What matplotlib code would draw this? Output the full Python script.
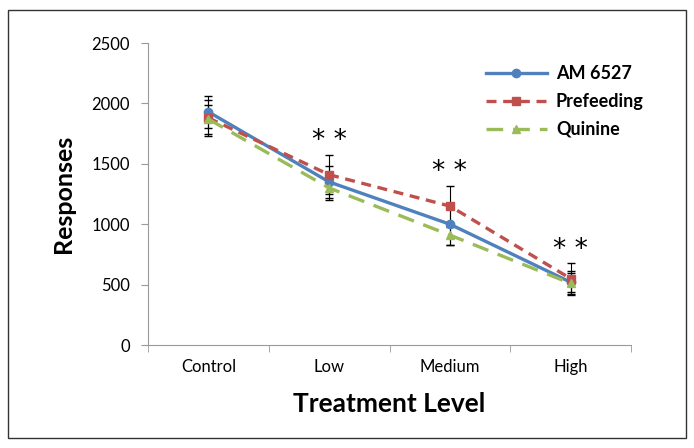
import matplotlib.pyplot as plt
from matplotlib.patches import Rectangle

categories = ["Control", "Low", "Medium", "High"]
am6527 = [1930, 1350, 1000, 520]
am6527_err = [130, 130, 170, 80]
prefeeding = [1880, 1410, 1150, 550]
prefeeding_err = [150, 160, 170, 130]
quinine = [1870, 1300, 910, 510]
quinine_err = [120, 100, 80, 100]
stars = ["", "* *", "* *", "* *"]
star_y = [0, 1690, 1430, 790]

plt.rcParams['font.family'] = ['Lato', 'DejaVu Sans']

fig = plt.figure(figsize=(6.94, 4.48), dpi=100)
ax = fig.add_axes([0.2133, 0.2299, 0.6959, 0.6741])

x = list(range(len(categories)))
series = [
    (am6527, am6527_err, "#4F81BD", "-", "o", "AM 6527"),
    (prefeeding, prefeeding_err, "#C0504D", (0, (3, 2)), "s", "Prefeeding"),
    (quinine, quinine_err, "#9BBB59", (0, (5, 3)), "^", "Quinine"),
]
for vals, errs, col, ls, mk, lab in series:
    ax.errorbar(x, vals, yerr=errs, fmt="none", ecolor="black", elinewidth=0.8,
                capsize=3, zorder=2)
    ax.plot(x, vals, color=col, lw=2.4, ls=ls, marker=mk, ms=6, label=lab, zorder=3)

for i, s in enumerate(stars):
    if s:
        ax.text(i, star_y[i], s, ha="center", va="center", fontsize=19,
                family="DejaVu Sans")

ax.set_xlim(-0.5, 3.5)
ax.set_ylim(0, 2500)
ax.set_yticks(range(0, 2501, 500))
ax.set_xticks(x)
ax.set_xticklabels(categories)
ax.set_xticks([-0.5, 0.5, 1.5, 2.5, 3.5], minor=True)
ax.tick_params(axis="x", which="major", length=0, labelsize=12, pad=10)
ax.tick_params(axis="x", which="minor", length=5, color="#999999")
ax.tick_params(axis="y", length=5, color="#999999", labelsize=12, pad=8)
for sp in ["top", "right"]:
    ax.spines[sp].set_visible(False)
for sp in ["left", "bottom"]:
    ax.spines[sp].set_color("#999999")

ax.set_ylabel("Responses", fontsize=18, fontweight="bold", labelpad=12)
ax.set_xlabel("Treatment Level", fontsize=19, fontweight="bold", labelpad=12)

leg = ax.legend(loc="upper right", bbox_to_anchor=(1.06, 0.98), frameon=False,
                fontsize=13, handlelength=3.4, labelspacing=0.6, handletextpad=0.5)
for t in leg.get_texts():
    t.set_fontweight("bold")

fig.patches.append(Rectangle((8 / 694, 10 / 448), 678 / 694, 428 / 448,
                             transform=fig.transFigure, fill=False,
                             edgecolor="#333333", lw=1))

fig.savefig("out.png", dpi=100)
